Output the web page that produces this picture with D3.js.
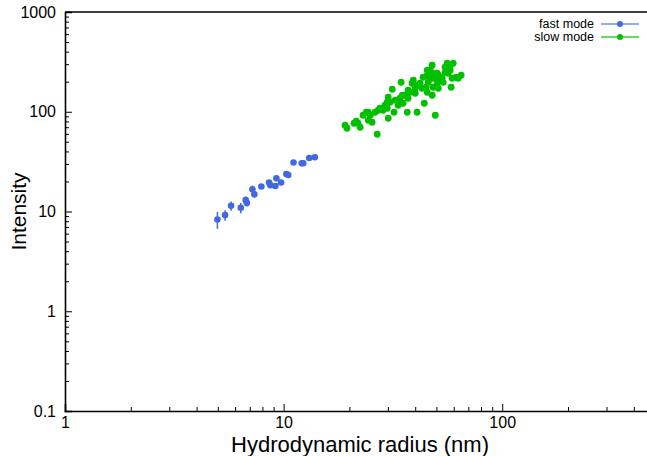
<!DOCTYPE html>
<html>
<head>
<meta charset="utf-8">
<script src="https://cdn.jsdelivr.net/npm/d3@7"></script>
<style>
  body { margin: 0; background: #fff; }
  svg { display: block; font-family: "Liberation Sans", Arial, sans-serif; }
</style>
</head>
<body>
<div id="chart"></div>
<script>
// fast mode: radius (nm), intensity, error on intensity
const fastRadius = [4.98, 5.40, 5.75, 6.37, 6.71, 6.79, 7.20, 7.35, 7.91, 8.58, 8.70, 9.17, 9.27, 9.74, 10.3, 10.5, 11.1, 12.1, 12.3, 13.1, 13.9];
const fastIntensity = [8.3, 9.2, 11.4, 10.9, 13.0, 12.2, 16.7, 14.9, 17.8, 19.5, 18.3, 18.0, 21.5, 19.5, 23.8, 23.2, 31.0, 30.5, 30.5, 34.4, 35.0];
const fastError = [1.6, 1.1, 1.2, 1.3, 1.2, 1.0, 1.5, 1.2, 1.0, 1.0, 0.9, 0.8, 0.8, 0.8, 0.8, 0.8, 0.7, 0.6, 0.6, 0.6, 0.6];

// slow mode
const slowRadius = [19.1, 19.5, 21.0, 21.5, 21.9, 22.4, 23.1, 23.9, 24.4, 24.9, 24.4, 25.4, 26.8, 27.1, 28.5, 29.8, 30.1, 29.8, 30.7, 31.4,
  30.1, 32.0, 32.4, 33.4, 33.4, 34.1, 34.5, 34.9, 35.2, 36.0, 36.8, 37.1, 37.1, 37.9, 38.7, 39.2, 40.0, 40.0, 40.8, 41.3,
  42.1, 43.0, 43.5, 44.0, 44.9, 45.4, 45.4, 45.4, 45.9, 46.8, 46.8, 47.8, 47.8, 47.8, 48.3, 48.3, 49.4, 50.4, 50.4, 51.0,
  51.0, 51.0, 53.1, 53.7, 54.8, 54.8, 56.0, 56.6, 56.6, 57.8, 57.8, 58.4, 59.0, 59.7, 61.6, 62.9, 64.9, 27.6, 29.1, 26.2];
const slowIntensity = [73.2, 68.3, 76.7, 80.3, 76.7, 69.9, 92.2, 98.9, 98.9, 92.2, 82.2, 78.5, 59.5, 103.5, 103.5, 108.4, 86.1, 124.5, 124.5, 168.1,
  139.7, 98.9, 130.4, 127.5, 116.2, 136.6, 197.6, 146.3, 121.7, 146.3, 98.9, 164.2, 136.6, 156.8, 193.1, 206.9, 172.0, 153.2, 98.9, 184.3,
  193.1, 172.0, 221.7, 121.7, 176.1, 260.6, 232.2, 156.8, 197.6, 260.6, 216.7, 292.5, 243.2, 146.3, 216.7, 176.1, 92.2, 243.2, 193.1, 232.2,
  206.9, 172.0, 221.7, 197.6, 279.3, 248.9, 306.4, 279.3, 243.2, 292.5, 260.6, 176.1, 216.7, 306.4, 221.7, 216.7, 232.2, 108.4, 116.2, 98.9];

const xMajorTicks = [1, 10, 100];
const yMajorTicks = [0.1, 1, 10, 100, 1000];
const seriesNames = ["fast mode", "slow mode"];
const seriesColors = ["#4169e1", "#00c000"];
const legendLineColors = ["#6f8ff0", "#30cc30"];

const width = 647, height = 456;
const margin = { top: 12, left: 65, bottom: 45 };
const plotRight = 655; // the frame runs past the window edge

const svg = d3.select("#chart").append("svg")
  .attr("width", width)
  .attr("height", height);

const x = d3.scaleLog().domain([1, 500]).range([margin.left, plotRight]);
const y = d3.scaleLog().domain([0.1, 1000]).range([height - margin.bottom, margin.top]);

// minor ticks (no labels)
const xMinor = x.ticks().filter(v => !xMajorTicks.includes(v));
const yMinor = y.ticks().filter(v => !yMajorTicks.includes(v));

svg.append("g")
  .attr("transform", `translate(0,${y.range()[0]})`)
  .call(d3.axisBottom(x).tickValues(xMinor).tickSize(-4).tickFormat(""))
  .call(g => g.select(".domain").remove());
svg.append("g")
  .attr("transform", `translate(${margin.left},0)`)
  .call(d3.axisLeft(y).tickValues(yMinor).tickSize(-4).tickFormat(""))
  .call(g => g.select(".domain").remove());

// major ticks with labels
const xAxis = svg.append("g")
  .attr("transform", `translate(0,${y.range()[0]})`)
  .call(d3.axisBottom(x).tickValues(xMajorTicks).tickSize(-7).tickPadding(6).tickFormat(d3.format("")));
const yAxis = svg.append("g")
  .attr("transform", `translate(${margin.left},0)`)
  .call(d3.axisLeft(y).tickValues(yMajorTicks).tickSize(-7).tickPadding(9).tickFormat(d => d < 1 ? "0.1" : d3.format("")(d)));

[xAxis, yAxis].forEach(a => {
  a.selectAll("text").attr("font-size", 16).attr("fill", "#000").attr("font-family", "Liberation Sans, Arial, sans-serif");
  a.select(".domain").attr("stroke-width", 1.6);
});
svg.selectAll(".tick line").attr("stroke", "#000");

// top frame line
svg.append("line")
  .attr("x1", margin.left).attr("x2", plotRight)
  .attr("y1", margin.top).attr("y2", margin.top)
  .attr("stroke", "#000").attr("stroke-width", 1.6);

// axis titles
svg.append("text")
  .attr("x", (margin.left + plotRight) / 2)
  .attr("y", 452)
  .attr("text-anchor", "middle")
  .attr("font-size", 22)
  .text("Hydrodynamic radius (nm)");
svg.append("text")
  .attr("transform", `translate(26,${(y.range()[0] + y.range()[1]) / 2}) rotate(-90)`)
  .attr("text-anchor", "middle")
  .attr("font-size", 21)
  .text("Intensity");

// error bars, fast mode
const fastData = fastRadius.map((r, i) => ({ r, v: fastIntensity[i], e: fastError[i] }));
svg.append("g").selectAll("line")
  .data(fastData)
  .join("line")
  .attr("x1", d => x(d.r)).attr("x2", d => x(d.r))
  .attr("y1", d => y(d.v - d.e)).attr("y2", d => y(d.v + d.e))
  .attr("stroke", seriesColors[0])
  .attr("stroke-width", 1.5);

svg.append("g").selectAll("circle")
  .data(fastData)
  .join("circle")
  .attr("cx", d => x(d.r))
  .attr("cy", d => y(d.v))
  .attr("r", 3.3)
  .attr("fill", seriesColors[0]);

const slowData = slowRadius.map((r, i) => ({ r, v: slowIntensity[i] }));
svg.append("g").selectAll("circle")
  .data(slowData)
  .join("circle")
  .attr("cx", d => x(d.r))
  .attr("cy", d => y(d.v))
  .attr("r", 3.4)
  .attr("fill", seriesColors[1]);

// legend
const legend = svg.append("g").selectAll("g")
  .data(seriesNames)
  .join("g")
  .attr("transform", (d, i) => `translate(0,${24 + i * 13})`);
legend.append("text")
  .attr("x", 594)
  .attr("dy", "0.35em")
  .attr("text-anchor", "end")
  .attr("font-size", 12.5)
  .text(d => d);
legend.append("line")
  .attr("x1", 601).attr("x2", 639)
  .attr("stroke", (d, i) => legendLineColors[i])
  .attr("stroke-width", 1.3);
legend.append("circle")
  .attr("cx", 620)
  .attr("r", 3)
  .attr("fill", (d, i) => seriesColors[i]);
</script>
</body>
</html>
